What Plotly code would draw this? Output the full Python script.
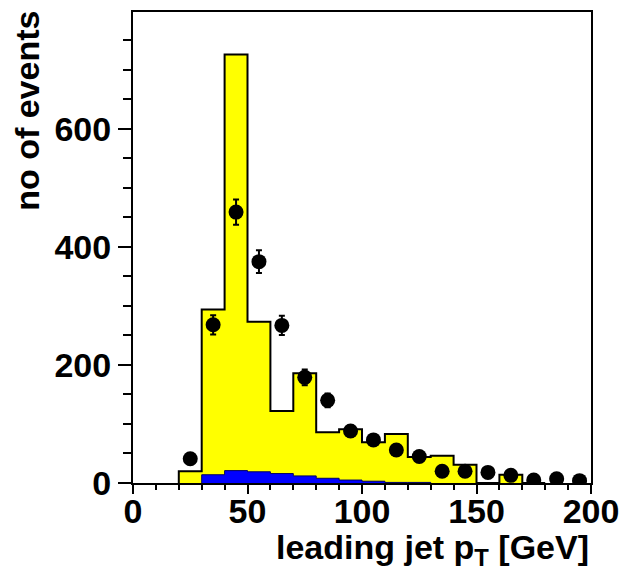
import plotly.graph_objects as go

# ---- data ----
bin_edges = [20, 30, 40, 50, 60, 70, 80, 90, 100, 110, 120, 130, 140, 150, 160, 170, 180]
mc_total = [20, 294, 726, 273, 122, 186, 86, 91, 69, 83, 44, 46, 31, 0, 14, 0]

blue_edges = [30, 40, 50, 60, 70, 80, 90, 100, 110, 120, 130]
mc_bkg = [14, 21, 19, 16, 12, 8, 5, 3, 1, 1]

data_x = [25, 35, 45, 55, 65, 75, 85, 95, 105, 115, 125, 135, 145, 155, 165, 175, 185, 195]
data_y = [41, 268, 459, 375, 267, 179, 140, 88, 73, 56, 45, 20, 20, 18, 13, 5, 7, 4]
data_err = [6.4, 16.4, 21.4, 19.4, 16.3, 13.4, 11.8, 9.4, 8.5, 7.5, 6.7, 4.5, 4.5, 4.2, 3.6, 2.2, 2.6, 2.0]

x_ticks = [0, 50, 100, 150, 200]
y_ticks = [0, 200, 400, 600]


def step_xy(edges, vals):
    xs = [edges[0]] + list(edges)
    ys = [0] + list(vals) + [0]
    return xs, ys


fig = go.Figure()

sx, sy = step_xy(bin_edges, mc_total)
fig.add_trace(go.Scatter(
    x=sx, y=sy, mode="lines", line=dict(shape="hv", color="black", width=2),
    fill="tozeroy", fillcolor="#ffff00", hoverinfo="skip", showlegend=False))

bx, by = step_xy(blue_edges, mc_bkg)
fig.add_trace(go.Scatter(
    x=bx, y=by, mode="lines", line=dict(shape="hv", color="#000060", width=1),
    fill="tozeroy", fillcolor="#0000ff", hoverinfo="skip", showlegend=False))

fig.add_trace(go.Scatter(
    x=data_x, y=data_y, mode="markers",
    marker=dict(symbol="circle", size=15, color="black"),
    error_y=dict(type="data", array=data_err, visible=True, color="black",
                 thickness=2, width=3),
    showlegend=False))

font_fam = "Liberation Sans, Arial, sans-serif"
fsize = 34

fig.update_layout(
    width=620, height=570,
    margin=dict(l=133, r=29, t=12, b=87, autoexpand=False),
    paper_bgcolor="white", plot_bgcolor="white",
    font=dict(family=font_fam, color="black"),
    xaxis=dict(
        range=[0, 200], tickmode="array", tickvals=x_ticks,
        ticktext=[str(v) for v in x_ticks], automargin=False,
        ticks="outside", ticklen=9, tickwidth=2, tickcolor="black",
        ticklabelstandoff=-12,
        minor=dict(dtick=10, ticks="outside", ticklen=5, tickwidth=2, tickcolor="black"),
        showline=True, linecolor="black", linewidth=2, mirror=True,
        showgrid=False, zeroline=False,
        tickfont=dict(family=font_fam, size=fsize, weight="bold", color="black"),
    ),
    yaxis=dict(
        range=[0, 798], tickmode="array", tickvals=y_ticks,
        ticktext=[str(v) for v in y_ticks], automargin=False,
        ticks="outside", ticklen=13, tickwidth=2, tickcolor="black",
        minor=dict(dtick=50, ticks="outside", ticklen=8, tickwidth=2, tickcolor="black"),
        showline=True, linecolor="black", linewidth=2, mirror=True,
        showgrid=False, zeroline=False,
        tickfont=dict(family=font_fam, size=fsize, weight="bold", color="black"),
    ),
    annotations=[
        dict(text="leading jet p<sub>T</sub> [GeV]", xref="paper", yref="paper",
             x=1.0, y=-0.091, xanchor="right", yanchor="top", showarrow=False,
             font=dict(family=font_fam, size=fsize, weight="bold", color="black")),
        dict(text="no of events", xref="paper", yref="paper",
             x=-0.23, y=1.006, xanchor="center", yanchor="top", textangle=-90,
             showarrow=False,
             font=dict(family=font_fam, size=fsize, weight="bold", color="black")),
    ],
)

fig.write_html("out.html")
